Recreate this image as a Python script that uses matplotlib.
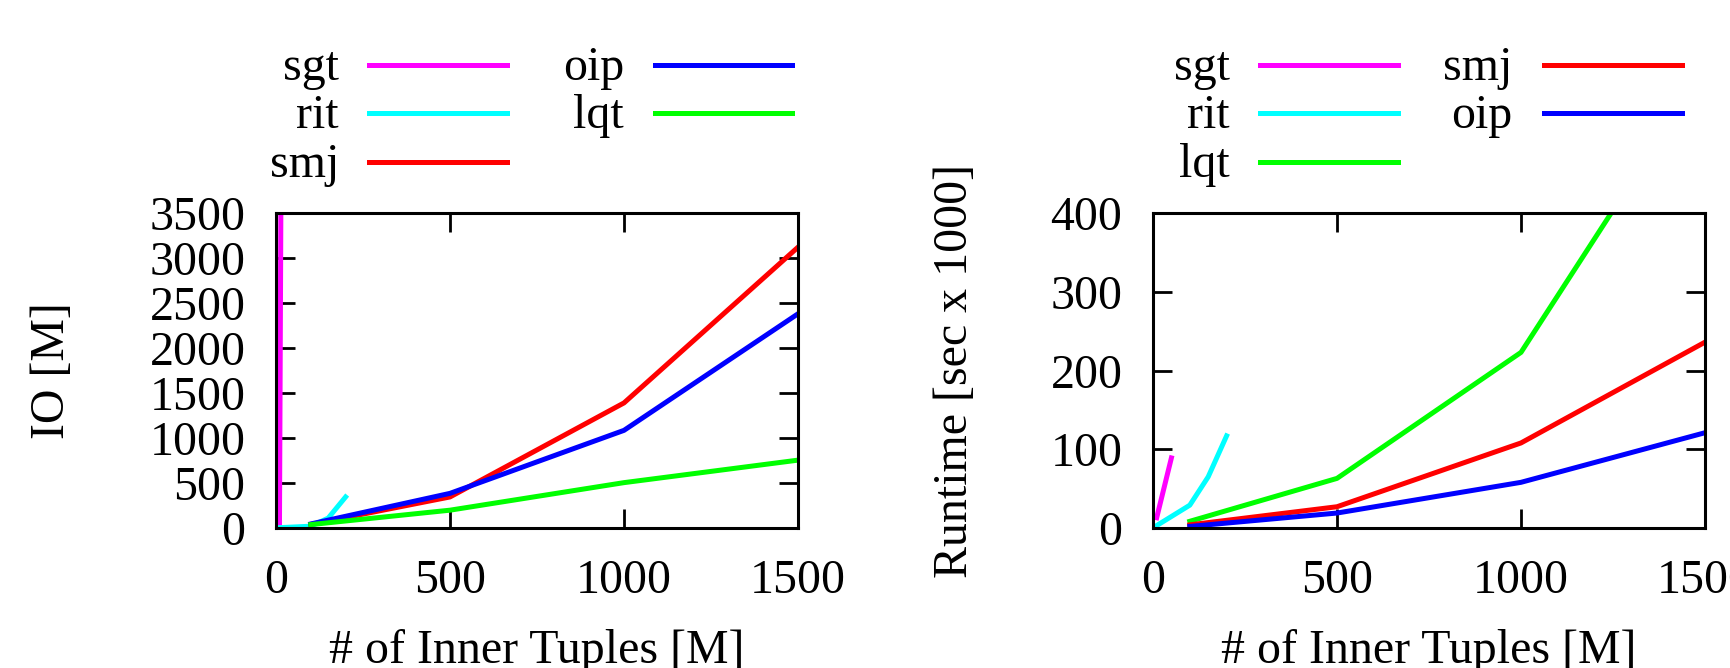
#!/usr/bin/env python3
import matplotlib
matplotlib.use('Agg')
import matplotlib.pyplot as plt
from matplotlib.lines import Line2D

FS = 34.5
plt.rcParams['font.family'] = ['Liberation Serif', 'DejaVu Serif']
plt.rcParams['font.size'] = FS

# x values: number of inner tuples [M]
sgt_x = [10, 50]
rit_x = [1, 100, 150, 200]
big_x = [100, 500, 1000, 1500]

# left panel: IO [M]
io_sgt = [55, 35000]
io_rit = [2, 20, 110, 345]
io_smj = [40, 345, 1390, 3120]
io_oip = [45, 385, 1085, 2380]
io_lqt = [38, 198, 504, 754]

# right panel: runtime [sec x 1000]
rt_sgt = [13, 89]
rt_rit = [0.5, 29, 65, 117]
rt_lqt = [8.5, 63, 223, 584]
rt_smj = [4, 27, 108, 236]
rt_oip = [2, 19, 58, 121]

x_ticks = [0, 500, 1000, 1500]
io_ticks = [0, 500, 1000, 1500, 2000, 2500, 3000, 3500]
rt_ticks = [0, 100, 200, 300, 400]

colors = {'sgt': '#ff00ff', 'rit': '#00ffff', 'smj': '#ff0000',
          'oip': '#0000ff', 'lqt': '#00ff00'}

W, H = 1730, 668
LW = 3.6


def fx(px):
    return px / W


def fy(py):
    return 1 - py / H


def style_axes(ax, yticks, ylim):
    ax.set_xlim(0, 1500)
    ax.set_ylim(*ylim)
    ax.set_xticks(x_ticks)
    ax.set_yticks(yticks)
    ax.tick_params(direction='in', length=14, width=2, top=True, right=True,
                   pad=22, labelsize=FS)
    for sp in ax.spines.values():
        sp.set_linewidth(2.2)
    ax.set_xlabel('# of Inner Tuples [M]', labelpad=19)


def draw_key(fig, lines, rows, text_right, line_x0, line_x1):
    # gnuplot style key: label on the left, right aligned, sample line after it
    for ln, (col, row) in zip(lines, rows):
        y = [65, 113, 162][row]
        fig.text(fx(text_right[col]), fy(y + 15), ln.get_label(),
                 ha='right', va='baseline', fontsize=FS)
        fig.add_artist(Line2D([fx(line_x0[col]), fx(line_x1[col])], [fy(y), fy(y)],
                              color=ln.get_color(), lw=LW,
                              transform=fig.transFigure))


fig = plt.figure(figsize=(W / 100, H / 100), dpi=100)

# left: IO
ax1 = fig.add_axes([fx(276), fy(528), fx(798) - fx(276), fy(213) - fy(528)])
l_sgt, = ax1.plot(sgt_x, io_sgt, color=colors['sgt'], lw=LW, label='sgt')
l_rit, = ax1.plot(rit_x, io_rit, color=colors['rit'], lw=LW, label='rit')
l_smj, = ax1.plot(big_x, io_smj, color=colors['smj'], lw=LW, label='smj')
l_oip, = ax1.plot(big_x, io_oip, color=colors['oip'], lw=LW, label='oip')
l_lqt, = ax1.plot(big_x, io_lqt, color=colors['lqt'], lw=LW, label='lqt')
style_axes(ax1, io_ticks, (0, 3500))
ax1.set_ylabel('IO [M]', va='center')
ax1.yaxis.set_label_coords(-0.429, 0.5)
draw_key(fig, [l_sgt, l_rit, l_smj, l_oip, l_lqt],
         [(0, 0), (0, 1), (0, 2), (1, 0), (1, 1)],
         [339, 624], [369, 655], [507, 792])

# right: runtime
ax2 = fig.add_axes([fx(1153), fy(528), fx(1705) - fx(1153), fy(213) - fy(528)])
r_sgt, = ax2.plot(sgt_x, rt_sgt, color=colors['sgt'], lw=LW, label='sgt')
r_rit, = ax2.plot(rit_x, rt_rit, color=colors['rit'], lw=LW, label='rit')
r_lqt, = ax2.plot(big_x, rt_lqt, color=colors['lqt'], lw=LW, label='lqt')
r_smj, = ax2.plot(big_x, rt_smj, color=colors['smj'], lw=LW, label='smj')
r_oip, = ax2.plot(big_x, rt_oip, color=colors['oip'], lw=LW, label='oip')
style_axes(ax2, rt_ticks, (0, 400))
ax2.set_ylabel('Runtime [sec x 1000]', va='center')
ax2.yaxis.set_label_coords(-0.359, 0.5)
draw_key(fig, [r_sgt, r_rit, r_lqt, r_smj, r_oip],
         [(0, 0), (0, 1), (0, 2), (1, 0), (1, 1)],
         [1230, 1512], [1260, 1544], [1398, 1682])

fig.savefig('out.png', dpi=100)
